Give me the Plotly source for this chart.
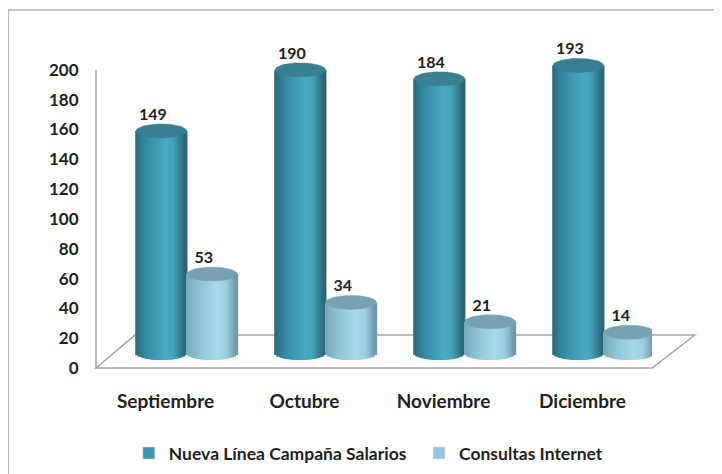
import numpy as np
import plotly.graph_objects as go

# ---- data ----
categories = ["Septiembre", "Octubre", "Noviembre", "Diciembre"]
series_names = ["Nueva Línea Campaña Salarios", "Consultas Internet"]
salarios = [149, 190, 184, 193]
internet = [53, 34, 21, 14]
y_ticks = [0, 20, 40, 60, 80, 100, 120, 140, 160, 180, 200]

# ---- style ----
FONT = "Lato"
TXT = "#231f20"
W = 0.365          # cylinder width (x units)
RY = 4.7           # ellipse half-height (y units)
N = 24             # slices per cylinder for shading
YMAX = 200 * 339 / 299   # extra headroom above the 200 tick
offsets = [0.0, 0.365]
legend_colors = ["#3b96ad", "#93c6d8"]
top_colors = ["#387f92", "#78a2b2"]
stops = [
    [(-1, "#29687a"), (-0.6, "#3589a1"), (0.2, "#49a9c3"), (0.5, "#46a3bc"), (1, "#28606f")],
    [(-1, "#76a7b9"), (-0.5, "#8cc3d5"), (0.2, "#a7dae9"), (0.6, "#9bcedf"), (1, "#6a93a3")],
]
legend_ids = ["legend", "legend2"]
legend_x = [0.059, 0.581]


def hex2rgb(h):
    return [int(h[i:i + 2], 16) for i in (1, 3, 5)]


def shade(stoplist, u):
    for (u0, c0), (u1, c1) in zip(stoplist[:-1], stoplist[1:]):
        if u0 <= u <= u1:
            t = (u - u0) / (u1 - u0)
            a, b = hex2rgb(c0), hex2rgb(c1)
            return "rgb(%d,%d,%d)" % tuple(round(a[k] + (b[k] - a[k]) * t) for k in range(3))
    return stoplist[-1][1]


fig = go.Figure()

for s, vals in enumerate([salarios, internet]):
    xs, ys, bases, cols, widths = [], [], [], [], []
    for i, v in enumerate(vals):
        c = i + offsets[s]
        for k in range(N):
            u = -1 + (2 * k + 1) / N
            dip = RY * np.sqrt(max(0.0, 1 - u * u))
            xs.append(c + u * W / 2)
            bases.append(-dip)
            ys.append(v + dip)
            cols.append(shade(stops[s], u))
            widths.append(W / N * 1.7)
    fig.add_trace(go.Bar(x=xs, y=ys, base=bases, width=widths,
                         marker=dict(color=cols, line=dict(width=0)),
                         yaxis="y2", showlegend=False, hoverinfo="skip"))
    # top ellipses
    t = np.linspace(0, 2 * np.pi, 60)
    for i, v in enumerate(vals):
        c = i + offsets[s]
        fig.add_trace(go.Scatter(x=c + W / 2 * np.cos(t), y=v + RY * np.sin(t),
                                 mode="lines", fill="toself", fillcolor=top_colors[s],
                                 line=dict(color=top_colors[s], width=0.5),
                                 yaxis="y2", showlegend=False, hoverinfo="skip"))
    # value labels
    fig.add_trace(go.Scatter(x=[i + offsets[s] - 0.06 for i in range(len(vals))],
                             y=[v + RY for v in vals], mode="text",
                             text=[str(v) for v in vals], textposition="top center",
                             textfont=dict(family=FONT, size=16, color=TXT, weight="bold"),
                             yaxis="y2", showlegend=False, cliponaxis=False,
                             hoverinfo="skip"))
    # legend entry
    fig.add_trace(go.Bar(x=[None], y=[None], name=series_names[s],
                         marker_color=legend_colors[s], showlegend=True,
                         legend=legend_ids[s]))

legend_common = dict(orientation="h", xanchor="left", y=-0.248, yanchor="middle",
                     font=dict(family=FONT, size=17.5, color=TXT, weight="bold"),
                     itemwidth=30, bgcolor="rgba(0,0,0,0)")

fig.update_layout(
    width=722, height=474,
    margin=dict(l=88, r=78, t=22, b=113),
    paper_bgcolor="white", plot_bgcolor="rgba(0,0,0,0)",
    barmode="overlay",
    font=dict(family=FONT, color=TXT, weight="bold"),
    xaxis=dict(range=[-0.47, 3.53], tickvals=[i + 0.03 for i in range(len(categories))],
               ticktext=categories, showgrid=False, zeroline=False, showline=False,
               ticks="outside", ticklen=16, tickcolor="rgba(0,0,0,0)",
               tickfont=dict(family=FONT, size=19, color=TXT, weight="bold")),
    yaxis=dict(range=[0, YMAX], tickvals=y_ticks, showgrid=False, zeroline=False,
               showline=False,
               ticks="outside", ticklen=13, tickcolor="rgba(0,0,0,0)",
               tickfont=dict(family=FONT, size=17, color=TXT, weight="bold")),
    yaxis2=dict(range=[-10, YMAX - 10], overlaying="y", visible=False),
    legend=dict(x=legend_x[0], **legend_common),
    legend2=dict(x=legend_x[1], **legend_common),
    shapes=[
        # 3D floor
        dict(type="path", xref="paper", yref="paper",
             path="M 0 0 L 1 0 L 1.077 0.0973 L 0.070 0.0973 Z",
             line=dict(color="#a6a6a6", width=1.5), fillcolor="white", layer="below"),
        # vertical axis line
        dict(type="line", xref="paper", yref="y", x0=0, x1=0, y0=0, y1=200,
             line=dict(color="#a6a6a6", width=1.5), layer="below"),
        # chart border
        dict(type="rect", xref="paper", yref="paper",
             x0=-0.158, y0=-0.36, x1=1.2, y1=1.059,
             line=dict(color="#b3b3b3", width=1.5), layer="below"),
    ],
)

fig.write_html("out.html")
